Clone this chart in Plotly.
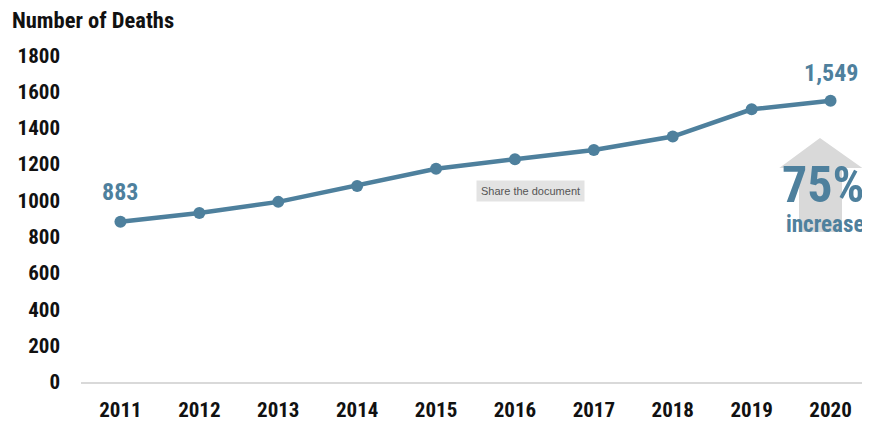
import plotly.graph_objects as go

years = [2011, 2012, 2013, 2014, 2015, 2016, 2017, 2018, 2019, 2020]
deaths = [883, 931, 992, 1080, 1174, 1227, 1278, 1352, 1502, 1549]
y_ticks = [0, 200, 400, 600, 800, 1000, 1200, 1400, 1600, 1800]

LINE = "#4e809d"
FONT = "Roboto Condensed, Roboto, Liberation Sans, sans-serif"

fig = go.Figure()

# grey block arrow behind the "75% increase" callout
ax0, ax1, ax2, ax3, ax4 = 2019.35, 2019.60, 2019.866, 2020.145, 2020.40
ay_tip, ay_base, ay_bot = 1344, 1179, 826
path = (f"M {ax2},{ay_tip} L {ax4},{ay_base} L {ax3},{ay_base} L {ax3},{ay_bot} "
        f"L {ax1},{ay_bot} L {ax1},{ay_base} L {ax0},{ay_base} Z")
fig.add_shape(type="path", path=path, xref="x", yref="y",
              fillcolor="#d9d9d9", line=dict(width=0), layer="below")

fig.add_trace(go.Scatter(
    x=years, y=deaths, mode="lines+markers",
    line=dict(color=LINE, width=4.5),
    marker=dict(color=LINE, size=12),
    hoverinfo="skip", showlegend=False, cliponaxis=False,
))

fig.add_annotation(x=years[0], y=deaths[0], text="<b>883</b>", showarrow=False,
                   yanchor="bottom", yshift=14,
                   font=dict(family=FONT, size=24, color=LINE))
fig.add_annotation(x=years[-1], y=deaths[-1], text="<b>1,549</b>", showarrow=False,
                   yanchor="bottom", yshift=12,
                   font=dict(family=FONT, size=24, color=LINE))
fig.add_annotation(x=2019.91, y=1085, text="<b>75%</b>", showarrow=False,
                   font=dict(family=FONT, size=50, color=LINE))
fig.add_annotation(x=2019.93, y=866, text="<b>increase</b>", showarrow=False,
                   font=dict(family=FONT, size=23, color=LINE))

# screenshot tooltip
fig.add_annotation(x=2016.2, y=1052, text="Share the document", showarrow=False,
                   bgcolor="#e3e3e3", borderpad=4,
                   font=dict(family="Liberation Sans", size=11, color="#555555"))

W, H = 862, 416
fig.update_layout(
    width=W, height=H,
    margin=dict(l=73, r=0, t=29, b=42, autoexpand=False),
    paper_bgcolor="white", plot_bgcolor="white",
    title=dict(text="<b>Number of Deaths</b>", x=4/W, xref="container", xanchor="left",
               y=1-12/H, yref="container", yanchor="middle",
               font=dict(family=FONT, size=22.5, color="#111111")),
    xaxis=dict(range=[2010.5, 2020.5], tickvals=years, ticktext=[f"<b>{y}</b>" for y in years],
               showgrid=False, zeroline=False, showline=True, linecolor="#d9d9d9", linewidth=1.5,
               ticks="", ticklabelstandoff=8, automargin=False,
               tickfont=dict(family=FONT, size=21, color="#111111")),
    yaxis=dict(range=[0, 1900], tickvals=y_ticks, ticktext=[f"<b>{v}</b>" for v in y_ticks],
               showgrid=False, zeroline=False, showline=False, ticks="",
               ticklabelstandoff=20, automargin=False,
               tickfont=dict(family=FONT, size=21, color="#111111")),
)

fig.write_html("out.html")
